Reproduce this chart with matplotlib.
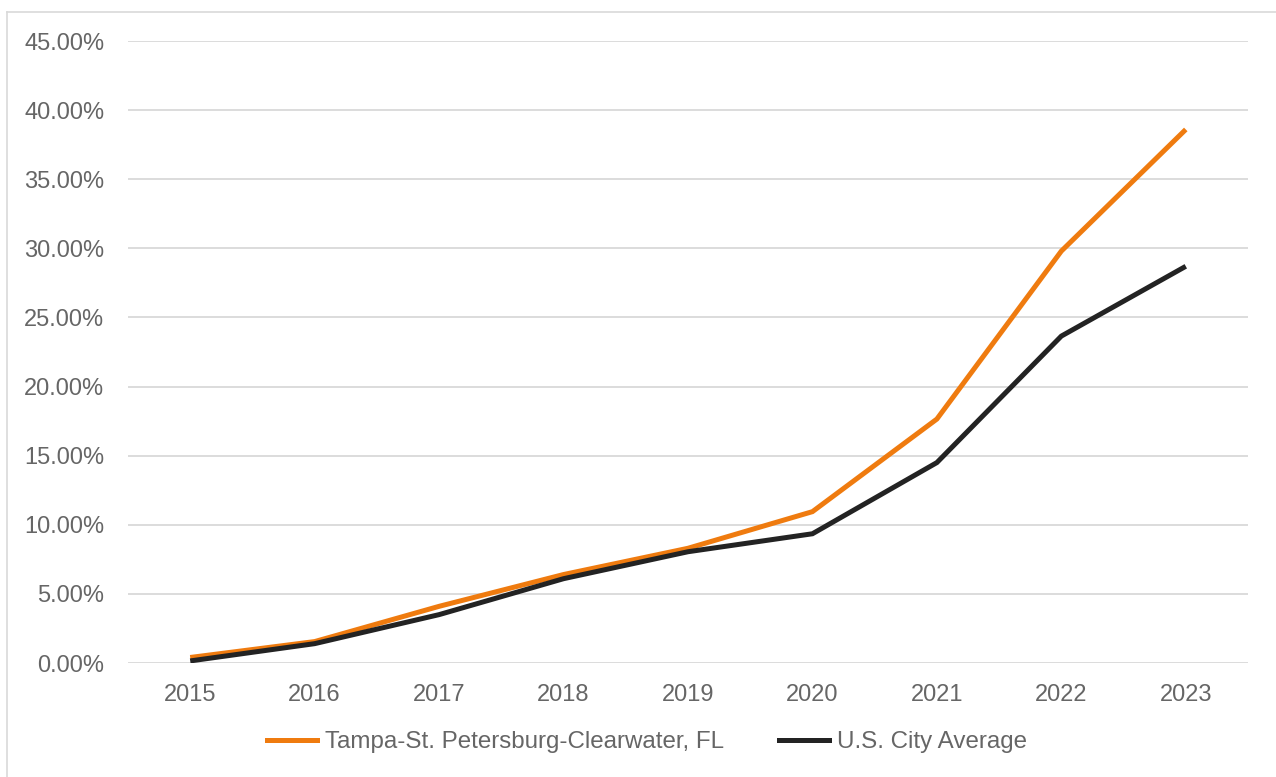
import matplotlib
matplotlib.use("Agg")
import matplotlib.pyplot as plt
from matplotlib.ticker import FuncFormatter
from matplotlib.lines import Line2D

years = ["2015", "2016", "2017", "2018", "2019", "2020", "2021", "2022", "2023"]
tampa = [0.40, 1.55, 4.10, 6.40, 8.30, 10.95, 17.65, 29.80, 38.60]
us_avg = [0.15, 1.40, 3.50, 6.10, 8.05, 9.35, 14.50, 23.65, 28.70]
series_names = ["Tampa-St. Petersburg-Clearwater, FL", "U.S. City Average"]
yticks = [0, 5, 10, 15, 20, 25, 30, 35, 40, 45]

plt.rcParams['font.family'] = ['Liberation Sans', 'DejaVu Sans']
text_color = "#666666"
grid_color = "#d9d9d9"
c_tampa = "#ef7b0f"
c_us = "#232323"

W, H = 1276, 777
fig = plt.figure(figsize=(W / 100, H / 100), dpi=100)
ax = fig.add_axes([128 / W, 1 - 663 / H, (1248 - 128) / W, (663 - 41) / H])

x = list(range(len(years)))
ax.plot(x, tampa, color=c_tampa, lw=3.6, solid_joinstyle='miter', solid_capstyle='butt', zorder=3)
ax.plot(x, us_avg, color=c_us, lw=3.6, solid_joinstyle='miter', solid_capstyle='butt', zorder=4)

ax.set_xlim(-0.5, len(years) - 0.5)
ax.set_ylim(0, 45)
ax.set_yticks(yticks)
ax.yaxis.set_major_formatter(FuncFormatter(lambda v, p: f"{v:.2f}%"))
ax.set_xticks(x)
ax.set_xticklabels(years)
ax.grid(axis='y', color=grid_color, lw=1.3, zorder=0)
for s in ax.spines.values():
    s.set_visible(False)
ax.tick_params(axis='both', length=0, labelsize=17, colors=text_color)
ax.tick_params(axis='y', pad=17)
ax.tick_params(axis='x', pad=15)

handles = [Line2D([0], [0], color=c_tampa, lw=3.6),
           Line2D([0], [0], color=c_us, lw=3.6)]
leg = fig.legend(handles, series_names, loc='center', bbox_to_anchor=(647 / W, 1 - 742 / H),
                 ncol=2, frameon=False, fontsize=17.4, handlelength=2.07, handletextpad=0.33,
                 columnspacing=2.27)
for t in leg.get_texts():
    t.set_color(text_color)

# figure border (chart area outline)
fig.add_artist(Line2D([7 / W, 7 / W], [0, 1 - 12 / H], transform=fig.transFigure, color="#d9d9d9", lw=1.2))
fig.add_artist(Line2D([7 / W, 1], [1 - 12 / H, 1 - 12 / H], transform=fig.transFigure, color="#d9d9d9", lw=1.2))

fig.savefig("out.png", dpi=100)
